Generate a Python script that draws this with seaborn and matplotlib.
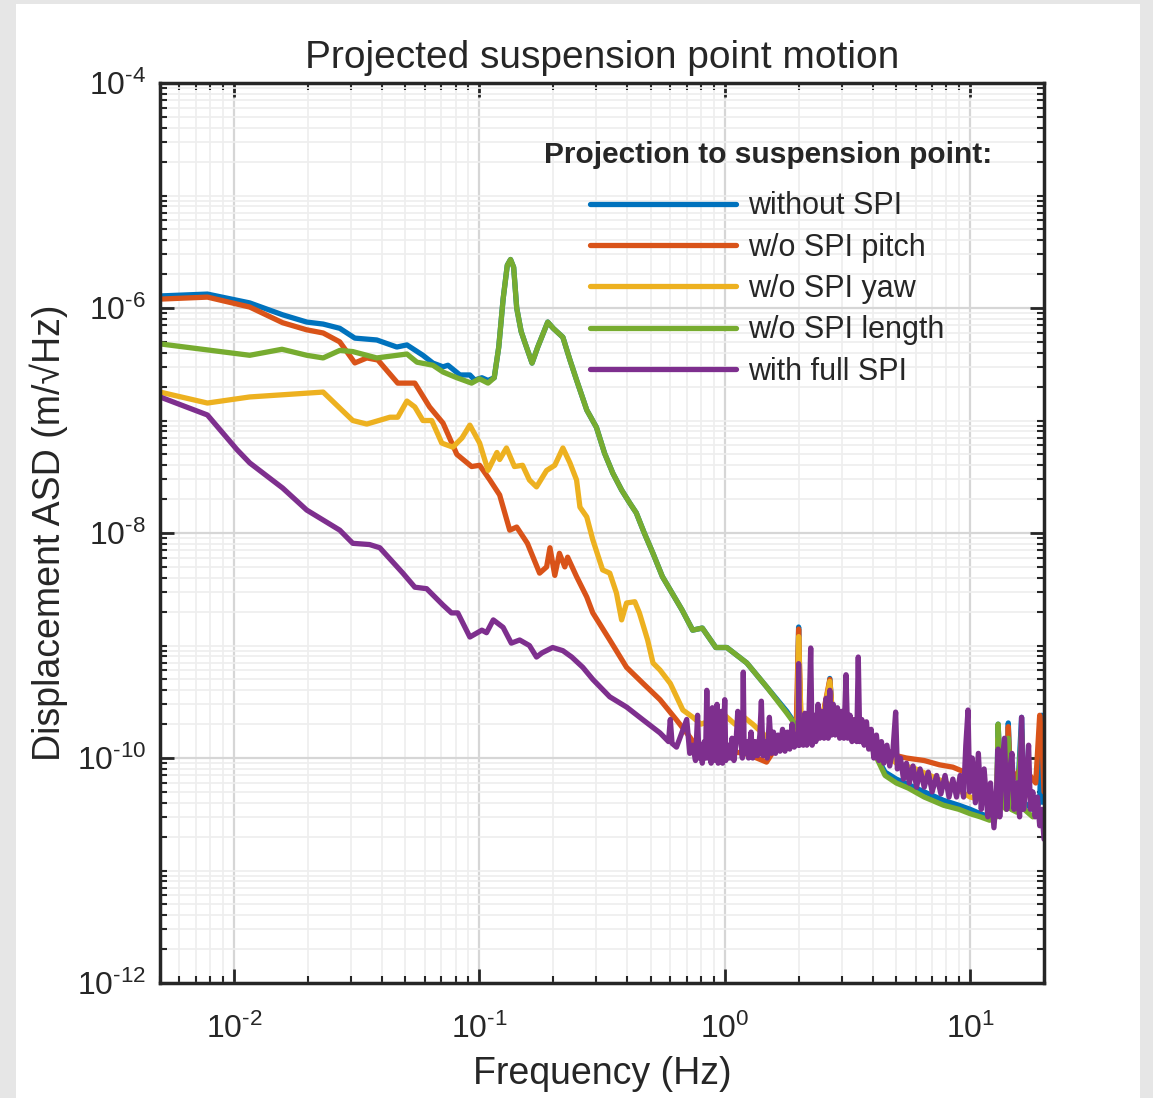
import numpy as np
import pandas as pd
import matplotlib.pyplot as plt
import matplotlib.ticker as mticker
from matplotlib.lines import Line2D
from matplotlib.patches import Rectangle
import seaborn as sns

sns.set_style("ticks")
plt.rcParams['font.family'] = ['Liberation Sans', 'DejaVu Sans']
plt.rcParams['axes.unicode_minus'] = False
plt.rcParams['mathtext.fontset'] = 'custom'
plt.rcParams['mathtext.rm'] = 'Liberation Sans'
plt.rcParams['mathtext.it'] = 'Liberation Sans:italic'
plt.rcParams['mathtext.bf'] = 'Liberation Sans:bold'

# legend labels and MATLAB default colours
labels = ["without SPI", "w/o SPI pitch", "w/o SPI yaw", "w/o SPI length", "with full SPI"]
colors = ["#0072BD", "#D95319", "#EDB120", "#77AC30", "#7E2F8E"]

# ---- w/o SPI length (green) ----
green_f = [0.005, 0.0116, 0.0157, 0.0198, 0.0231, 0.027, 0.0305, 0.0382, 0.0507, 0.0557,
           0.0647, 0.0711, 0.081, 0.093, 0.1, 0.1085, 0.115, 0.12, 0.125, 0.13, 0.134,
           0.138, 0.142, 0.148, 0.153, 0.164, 0.173, 0.19, 0.2, 0.219, 0.234, 0.249,
           0.274, 0.30, 0.324, 0.35, 0.38, 0.41, 0.436, 0.47, 0.51, 0.557, 0.61, 0.67,
           0.74, 0.81, 0.92, 1.02, 1.23, 1.48, 1.79, 2.0, 2.3, 2.7, 3.0, 3.5, 4.0, 4.5,
           5.0, 5.6, 6.5, 7.8, 9.0, 10.0, 11.0, 12.0, 12.8, 13.0, 13.4, 14.0, 14.3,
           14.7, 15.5, 16.2, 16.6, 18.0, 19.2, 20.0]
green_a = [4.8e-7, 3.8e-7, 4.3e-7, 3.8e-7, 3.6e-7, 4.2e-7, 4.1e-7, 3.6e-7, 3.9e-7, 3.3e-7,
           3.1e-7, 2.7e-7, 2.4e-7, 2.15e-7, 2.35e-7, 2.15e-7, 2.4e-7, 4.5e-7, 1.2e-6, 2.4e-6, 2.7e-6,
           2.3e-6, 1.0e-6, 6.2e-7, 5.0e-7, 3.24e-7, 4.5e-7, 7.5e-7, 6.6e-7, 5.5e-7, 3.45e-7, 2.29e-7,
           1.24e-7, 8.7e-8, 5.1e-8, 3.4e-8, 2.41e-8, 1.85e-8, 1.51e-8, 1.0e-8, 6.6e-9, 4.1e-9, 2.93e-9, 2.07e-9,
           1.37e-9, 1.43e-9, 9.6e-10, 9.6e-10, 7.0e-10, 4.3e-10, 2.51e-10, 1.8e-10, 2.0e-10, 2.2e-10, 2.0e-10, 1.7e-10, 1.2e-10, 7.0e-11,
           6.0e-11, 5.4e-11, 4.5e-11, 3.8e-11, 3.5e-11, 3.2e-11, 3.0e-11, 2.8e-11, 3.0e-11, 2.0e-10, 4.0e-11, 3.5e-11, 1.5e-10,
           3.5e-11, 3.3e-11, 1.8e-10, 3.5e-11, 3.0e-11, 3.5e-11, 3.0e-11]

# ---- without SPI (blue): low part, then follows green ----
blue_f = [0.005, 0.0078, 0.0116, 0.0158, 0.0198, 0.0231, 0.027, 0.0311, 0.0382, 0.0461,
          0.0507, 0.0589, 0.0647, 0.0711, 0.0745, 0.0834, 0.0915, 0.0958, 0.1024, 0.1085,
          0.115, 0.12, 0.125, 0.13, 0.134, 0.138, 0.142, 0.148, 0.153, 0.164, 0.173, 0.19,
          0.2, 0.219, 0.234, 0.249, 0.274, 0.30, 0.324, 0.35, 0.38, 0.41, 0.436, 0.47, 0.51,
          0.557, 0.61, 0.67, 0.74, 0.81, 0.92, 1.02, 1.23, 1.48, 1.79, 1.97, 2.0, 2.03, 2.3,
          2.6, 2.68, 2.75, 3.0, 3.5, 4.0, 4.5, 5.0, 5.6, 6.5, 7.8, 9.0, 10.0, 11.0, 12.0,
          12.8, 13.0, 13.4, 14.0, 14.3, 14.7, 15.5, 16.2, 16.6, 18.0, 19.2, 19.6, 20.0]
blue_a = [1.28e-6, 1.33e-6, 1.11e-6, 8.7e-7, 7.5e-7, 7.2e-7, 6.6e-7, 5.4e-7, 5.2e-7, 4.5e-7,
          4.7e-7, 3.8e-7, 3.24e-7, 3.0e-7, 3.1e-7, 2.54e-7, 2.54e-7, 2.29e-7, 2.4e-7, 2.27e-7,
          2.4e-7, 4.5e-7, 1.2e-6, 2.4e-6, 2.7e-6, 2.3e-6, 1.0e-6, 6.2e-7, 5.0e-7, 3.24e-7, 4.5e-7, 7.5e-7,
          6.6e-7, 5.5e-7, 3.45e-7, 2.29e-7, 1.24e-7, 8.7e-8, 5.1e-8, 3.4e-8, 2.41e-8, 1.85e-8, 1.51e-8, 1.0e-8, 6.6e-9,
          4.1e-9, 2.93e-9, 2.07e-9, 1.37e-9, 1.43e-9, 9.6e-10, 9.6e-10, 7.0e-10, 4.3e-10, 2.6e-10, 1.9e-10, 1.46e-9, 1.9e-10, 2.0e-10,
          2.3e-10, 5.1e-10, 2.3e-10, 2.1e-10, 1.7e-10, 1.2e-10, 7.5e-11, 6.5e-11, 5.8e-11, 5.0e-11, 4.2e-11, 3.8e-11, 3.5e-11, 3.2e-11, 3.0e-11,
          3.2e-11, 2.0e-10, 4.0e-11, 3.6e-11, 2.05e-10, 4.0e-11, 3.6e-11, 2.3e-10, 4.0e-11, 3.5e-11, 4.0e-11, 2.4e-10, 4.0e-11]

# ---- w/o SPI pitch (orange) ----
orange_f = [0.005, 0.0078, 0.0116, 0.0158, 0.0198, 0.0231, 0.027, 0.0311, 0.0348, 0.0386,
            0.0465, 0.0546, 0.0627, 0.0711, 0.081, 0.093, 0.1003, 0.1104, 0.121, 0.133,
            0.142, 0.157, 0.176, 0.188, 0.194, 0.203, 0.212, 0.223, 0.229, 0.249, 0.274,
            0.29, 0.34, 0.398, 0.465, 0.545, 0.636, 0.72, 0.78, 0.85, 0.95, 1.05, 1.2,
            1.35, 1.48, 1.6, 1.8, 1.95, 2.0, 2.05, 2.3, 2.5, 2.68, 2.75, 3.0, 3.3, 3.7,
            4.0, 4.5, 5.0, 5.5, 6.5, 7.5, 8.5, 9.5, 10.5, 11.0, 12.0, 13.0, 14.0, 14.3,
            14.6, 16.0, 17.5, 18.5, 19.2, 19.6, 20.0]
orange_a = [1.2e-6, 1.25e-6, 1.02e-6, 7.4e-7, 6.4e-7, 6.0e-7, 5.0e-7, 3.25e-7, 3.6e-7, 3.45e-7,
            2.15e-7, 2.15e-7, 1.32e-7, 9.5e-8, 5.0e-8, 3.9e-8, 4.0e-8, 2.96e-8, 2.18e-8, 1.06e-8,
            1.13e-8, 8.1e-9, 4.4e-9, 5.0e-9, 7.4e-9, 4.2e-9, 6.6e-9, 5.0e-9, 6.1e-9, 4.1e-9, 2.7e-9,
            1.95e-9, 1.12e-9, 6.4e-10, 4.6e-10, 3.3e-10, 2.18e-10, 1.54e-10, 1.2e-10, 1.1e-10, 1.1e-10, 1.15e-10, 1.1e-10,
            1.0e-10, 9.2e-11, 1.2e-10, 1.4e-10, 1.5e-10, 1.4e-9, 1.6e-10, 2.0e-10, 2.3e-10, 5.0e-10, 2.3e-10, 2.4e-10, 2.2e-10, 1.8e-10,
            1.5e-10, 1.2e-10, 1.05e-10, 1.0e-10, 9.5e-11, 8.7e-11, 8.3e-11, 7.5e-11, 6.0e-11, 5.0e-11, 4.5e-11, 5.0e-11, 6.0e-11, 1.9e-10,
            6.0e-11, 8.0e-11, 7.0e-11, 6.0e-11, 2.4e-10, 1.5e-10, 5.0e-11]

# ---- w/o SPI yaw (yellow) ----
yellow_f = [0.005, 0.0078, 0.0116, 0.0231, 0.027, 0.0305, 0.0348, 0.0432, 0.0465, 0.0507,
            0.0546, 0.0589, 0.064, 0.0703, 0.078, 0.085, 0.0915, 0.1003, 0.1085, 0.118,
            0.121, 0.129, 0.139, 0.15, 0.16, 0.171, 0.188, 0.203, 0.219, 0.234, 0.249,
            0.257, 0.274, 0.29, 0.318, 0.34, 0.362, 0.38, 0.398, 0.43, 0.449, 0.485, 0.51,
            0.545, 0.6, 0.675, 0.74, 0.8, 0.9, 1.0, 1.1, 1.2, 1.3, 1.5, 1.8, 1.97, 2.0,
            2.05, 2.5, 2.68, 2.75, 3.0, 3.5, 4.0, 5.0, 6.0, 8.0, 10.0, 12.8, 13.0, 13.4,
            16.0, 20.0]
yellow_a = [1.79e-7, 1.43e-7, 1.62e-7, 1.79e-7, 1.29e-7, 1.0e-7, 9.3e-8, 1.07e-7, 1.07e-7, 1.49e-7,
            1.32e-7, 1.0e-7, 1.0e-7, 6.3e-8, 5.8e-8, 7.0e-8, 9.1e-8, 6.3e-8, 3.6e-8, 5.2e-8,
            4.5e-8, 5.7e-8, 3.9e-8, 4.0e-8, 2.96e-8, 2.57e-8, 3.6e-8, 4.0e-8, 5.7e-8, 4.2e-8, 2.96e-8,
            1.7e-8, 1.39e-8, 8.7e-9, 4.7e-9, 4.4e-9, 2.93e-9, 1.69e-9, 2.39e-9, 2.45e-9, 1.95e-9, 1.12e-9, 7.0e-10,
            6.05e-10, 4.6e-10, 2.67e-10, 2.31e-10, 2.0e-10, 2.2e-10, 2.4e-10, 2.0e-10, 2.3e-10, 2.0e-10, 1.5e-10, 1.6e-10, 1.5e-10, 1.2e-9,
            1.8e-10, 2.2e-10, 4.8e-10, 2.2e-10, 2.3e-10, 1.8e-10, 1.4e-10, 9.0e-11, 8.0e-11, 6.0e-11, 4.5e-11, 4.0e-11, 1.5e-10, 4.0e-11,
            6.0e-11, 3.0e-11]

# ---- with full SPI (purple) ----
purple_f = [0.005, 0.0078, 0.0103, 0.0116, 0.0158, 0.0198, 0.027, 0.0305, 0.0357, 0.0393,
            0.0488, 0.0546, 0.061, 0.0711, 0.077, 0.0817, 0.0915, 0.1024, 0.107, 0.114,
            0.125, 0.135, 0.146, 0.16, 0.171, 0.18, 0.199, 0.219, 0.238, 0.264, 0.29, 0.34,
            0.398, 0.465, 0.545, 0.59, 0.6, 0.61, 0.636, 0.7, 0.72,
            0.74, 0.76, 0.775, 0.785, 0.80, 0.81, 0.825, 0.835, 0.845, 0.855, 0.87, 0.88,
            0.89, 0.90, 0.915, 0.93, 0.94, 0.955, 0.97, 0.98, 1.00, 1.01, 1.03, 1.05, 1.07,
            1.09, 1.11, 1.13, 1.16, 1.18, 1.19, 1.20, 1.23, 1.25, 1.28, 1.30, 1.33, 1.36,
            1.39, 1.41, 1.43, 1.46, 1.49, 1.52, 1.55, 1.58, 1.61, 1.65, 1.68, 1.72, 1.76,
            1.80, 1.84, 1.88, 1.92, 1.96, 1.99, 2.00, 2.02, 2.06, 2.09, 2.12, 2.16, 2.20,
            2.24, 2.27, 2.31, 2.35, 2.40, 2.44, 2.49, 2.54, 2.59, 2.64, 2.68, 2.72, 2.77,
            2.82, 2.88, 2.94, 3.00, 3.06, 3.12, 3.17, 3.24, 3.30, 3.38, 3.45, 3.50, 3.55,
            3.62, 3.70, 3.78, 3.86, 3.95, 4.05, 4.15, 4.25, 4.35, 4.45, 4.58, 4.70, 4.85,
            4.97, 5.05, 5.20, 5.35, 5.50, 5.65, 5.85, 6.05, 6.25, 6.50, 6.75, 7.00, 7.30,
            7.60, 7.90, 8.20, 8.50, 8.80, 9.10, 9.40, 9.60, 9.80, 9.95, 10.2, 10.5, 10.8,
            11.1, 11.4, 11.8, 12.1, 12.5, 12.8, 13.0, 13.2, 13.5, 13.8, 14.1, 14.4, 14.8,
            15.1, 15.5, 15.9, 16.2, 16.5, 16.9, 17.3, 17.6, 18.0, 18.4, 18.8, 19.2, 19.6, 20.0]
purple_a = [1.62e-7, 1.12e-7, 5.5e-8, 4.2e-8, 2.51e-8, 1.6e-8, 1.06e-8, 8.1e-9, 7.9e-9, 7.4e-9,
            4.4e-9, 3.3e-9, 3.2e-9, 2.29e-9, 1.95e-9, 1.95e-9, 1.19e-9, 1.37e-9, 1.3e-9, 1.69e-9,
            1.45e-9, 1.05e-9, 1.12e-9, 1.0e-9, 7.9e-10, 8.6e-10, 9.6e-10, 9.0e-10, 7.9e-10, 6.4e-10, 5.0e-10, 3.5e-10,
            2.84e-10, 2.18e-10, 1.67e-10, 1.4e-10, 2.2e-10, 1.35e-10, 1.25e-10, 2.2e-10, 1.1e-10,
            1.3e-10, 0.95e-10, 2.4e-10, 1.0e-10, 1.3e-10, 0.9e-10, 1.4e-10, 1.0e-10, 4.0e-10, 1.0e-10, 1.5e-10, 0.9e-10,
            2.8e-10, 0.95e-10, 1.4e-10, 3.0e-10, 0.9e-10, 1.3e-10, 2.6e-10, 0.9e-10, 3.3e-10, 0.95e-10, 1.3e-10, 1.0e-10, 1.5e-10,
            0.95e-10, 1.3e-10, 2.6e-10, 1.6e-10, 1.0e-10, 5.8e-10, 1.1e-10, 1.4e-10, 1.0e-10, 1.7e-10, 1.0e-10, 1.4e-10, 1.05e-10,
            1.6e-10, 3.2e-10, 1.05e-10, 1.4e-10, 1.0e-10, 2.3e-10, 1.1e-10, 1.7e-10, 1.1e-10, 1.6e-10, 1.15e-10, 1.8e-10, 1.15e-10,
            1.7e-10, 1.2e-10, 2.0e-10, 1.25e-10, 1.6e-10, 1.3e-10, 6.9e-10, 1.3e-10, 2.0e-10, 1.3e-10, 2.5e-10, 1.3e-10, 2.0e-10,
            9.5e-10, 1.3e-10, 2.4e-10, 1.4e-10, 3.0e-10, 1.5e-10, 2.6e-10, 1.5e-10, 3.4e-10, 1.5e-10, 4.0e-10, 1.6e-10, 3.0e-10,
            1.6e-10, 2.8e-10, 1.5e-10, 2.6e-10, 1.5e-10, 5.5e-10, 1.5e-10, 2.4e-10, 1.4e-10, 2.2e-10, 1.4e-10, 7.9e-10, 1.4e-10,
            2.2e-10, 1.3e-10, 2.1e-10, 1.2e-10, 1.8e-10, 1.0e-10, 1.6e-10, 0.95e-10, 1.4e-10, 0.9e-10, 1.3e-10, 0.85e-10, 1.2e-10,
            2.56e-10, 0.8e-10, 1.0e-10, 0.65e-10, 0.9e-10, 0.6e-10, 0.85e-10, 0.55e-10, 0.8e-10, 0.55e-10, 0.75e-10, 0.5e-10, 0.7e-10,
            0.48e-10, 0.7e-10, 0.45e-10, 0.65e-10, 0.45e-10, 0.7e-10, 0.45e-10, 1.3e-10, 2.67e-10, 0.5e-10, 1.0e-10, 0.4e-10, 1.1e-10,
            0.35e-10, 0.8e-10, 0.3e-10, 0.6e-10, 0.24e-10, 0.5e-10, 1.2e-10, 0.3e-10, 0.9e-10, 1.5e-10, 0.35e-10, 0.7e-10, 1.1e-10,
            0.35e-10, 0.6e-10, 0.3e-10, 2.3e-10, 0.35e-10, 0.6e-10, 1.3e-10, 0.35e-10, 0.5e-10, 0.3e-10, 0.45e-10, 0.25e-10, 0.35e-10, 1.9e-11]

series = [(blue_f, blue_a), (orange_f, orange_a), (yellow_f, yellow_a),
          (green_f, green_a), (purple_f, purple_a)]
df = pd.concat([pd.DataFrame({"freq": f, "asd": a, "series": lab})
                for lab, (f, a) in zip(labels, series)], ignore_index=True)

fig = plt.figure(figsize=(11.53, 10.98), dpi=100)
fig.patch.set_facecolor("#e6e6e6")
fig.add_artist(Rectangle((16 / 1153, 0), 1124 / 1153, 1094 / 1098,
                         transform=fig.transFigure, facecolor="white",
                         edgecolor="none", zorder=0))

ax = fig.add_axes([0.1388, 0.1047, 0.7667, 0.8197])
ax.set_xscale("log")
ax.set_yscale("log")

sns.lineplot(data=df, x="freq", y="asd", hue="series", hue_order=labels,
             palette=colors, estimator=None, sort=False, lw=3.8, legend=False, ax=ax)

ax.set_xlim(0.005, 20)
ax.set_ylim(1e-12, 1e-4)


# MATLAB-like labels: 10 with a plain hyphen in the exponent
def pow10(v, pos):
    e = int(round(np.log10(v)))
    if e < 0:
        return r"$\mathrm{10}^{\text{-%d}}$" % (-e)
    return r"$\mathrm{10}^{\mathrm{%d}}$" % e


ax.xaxis.set_major_locator(mticker.FixedLocator([1e-2, 1e-1, 1e0, 1e1]))
ax.xaxis.set_major_formatter(mticker.FuncFormatter(pow10))
ax.xaxis.set_minor_locator(mticker.LogLocator(base=10, subs=np.arange(2, 10), numticks=40))
ax.xaxis.set_minor_formatter(mticker.NullFormatter())
ax.yaxis.set_major_locator(mticker.FixedLocator([1e-12, 1e-10, 1e-8, 1e-6, 1e-4]))
ax.yaxis.set_major_formatter(mticker.FuncFormatter(pow10))
ax.yaxis.set_minor_locator(mticker.LogLocator(base=10, subs=np.arange(1, 10), numticks=40))
ax.yaxis.set_minor_formatter(mticker.NullFormatter())

ax.grid(True, which="major", color="#d6d6d6", lw=1.6)
ax.grid(True, which="minor", color="#eeeeee", lw=1.2)
ax.set_axisbelow(True)

ax.tick_params(which="both", direction="in", top=True, right=True, colors="#262626")
ax.tick_params(which="major", length=10, width=2, labelsize=23)
ax.tick_params(axis="x", which="major", pad=22)
ax.tick_params(axis="y", which="major", pad=10)
ax.tick_params(which="minor", length=5, width=1.5)
for sp in ax.spines.values():
    sp.set_linewidth(2.5)
    sp.set_color("#262626")

ax.set_title("Projected suspension point motion", fontsize=28, pad=11)
ax.set_xlabel("Frequency (Hz)", fontsize=27, labelpad=8)
ax.set_ylabel("Displacement ASD (m/\u221aHz)", fontsize=27, labelpad=6)

handles = [Line2D([], [], color=c, lw=3.8) for c in colors]
leg = ax.legend(handles, labels, loc="upper right", bbox_to_anchor=(0.972, 0.966),
                frameon=False, fontsize=22, handlelength=4.75, handletextpad=0.42,
                labelspacing=0.37, title="Projection to suspension point:",
                title_fontproperties={"weight": "bold", "size": 21.5})
leg._legend_box.sep = 16

fig.savefig("out.png", dpi=100, facecolor=fig.get_facecolor())
